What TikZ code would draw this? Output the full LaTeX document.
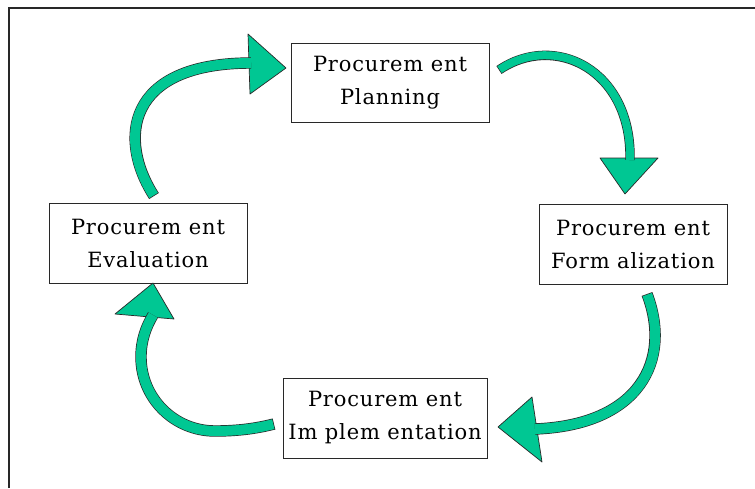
\documentclass[tikz,border=0pt]{standalone}
\usepackage{fontspec}
\setmainfont{DejaVu Serif}[LetterSpace=4]
\definecolor{arrowgreen}{RGB}{0,199,147}
\definecolor{edge}{RGB}{40,40,40}
\begin{document}
\begin{tikzpicture}[x=1pt,y=-1pt,
  box/.style={draw=edge, line width=0.8pt, fill=white, align=center,
    inner sep=0pt, font=\fontsize{21}{33}\selectfont},
  shaft/.style={draw=arrowgreen, line width=10pt, shorten <=0.7pt,
    preaction={draw=edge, line width=11.4pt, shorten <=0pt}},
  thinshaft/.style={draw=arrowgreen, line width=8pt, shorten <=0.7pt,
    preaction={draw=edge, line width=9.4pt, shorten <=0pt}},
  head/.style={fill=arrowgreen, draw=edge, line width=0.7pt, line join=round}]
\useasboundingbox (0,0) rectangle (755,488);
\draw[line width=1.3pt, edge] (9,488) -- (9,8) -- (755,8);

% boxes
\node[box, minimum width=198pt, minimum height=79pt] (plan) at (390,82.5) {Procurem ent\\Planning};
\node[box, minimum width=198pt, minimum height=80pt] (eval) at (148,243) {Procurem ent\\Evaluation};
\node[box, minimum width=188pt, minimum height=80pt] (form) at (633,244) {Procurem ent\\Form alization};
\node[box, minimum width=204pt, minimum height=80pt] (impl) at (385,418) {Procurem ent\\Im plem entation};

% arrow coordinates
\coordinate (t1) at (154,196);
\coordinate (e1) at (251,63);
\coordinate (t2) at (499,70);
\coordinate (e2) at (630,160);
\coordinate (t3) at (647,294);
\coordinate (e3) at (535,429);
\coordinate (t4) at (274,424);
\coordinate (b4) at (215,431);
\coordinate (l4) at (141,357);
\coordinate (e4) at (153,315);

% heads
\draw[head] (248,34) -- (286,68) -- (250,94) -- cycle;
\draw[head] (600,158) -- (625,194) -- (658,158) -- cycle;
\draw[head] (532,397) -- (498,427) -- (542,462) -- cycle;
\draw[head] (115,314) -- (153,283) -- (174,319) -- cycle;

% shafts
\draw[shaft] (t1) .. controls (118,140) and (125,63) .. (e1);
\draw[thinshaft] (t2) .. controls (555,32) and (632,70) .. (e2);
\draw[shaft] (t3) .. controls (672,360) and (640,425) .. (e3);
\draw[shaft] (t4) .. controls (258,428) and (240,431) .. (b4)
  .. controls (174,431) and (141,398) .. (l4)
  .. controls (141,340) and (146,327) .. (e4);
\end{tikzpicture}
\end{document}
